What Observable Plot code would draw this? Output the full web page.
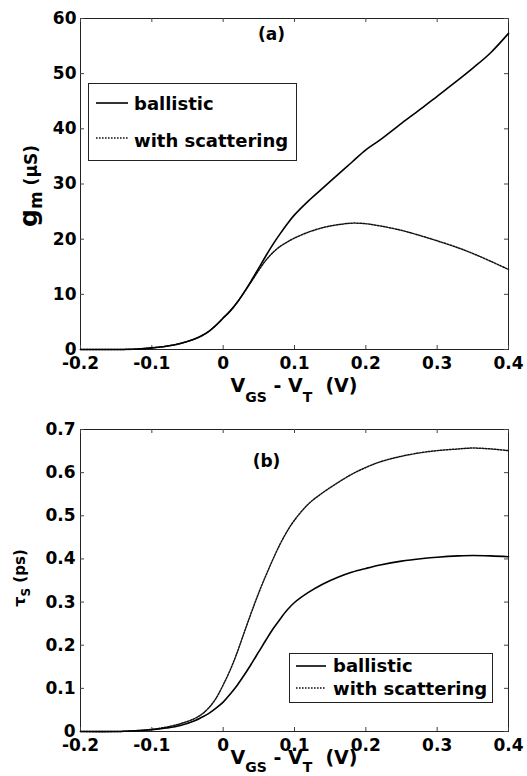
<!DOCTYPE html>
<html><head><meta charset="utf-8">
<script src="https://cdn.jsdelivr.net/npm/d3@7"></script>
<script src="https://cdn.jsdelivr.net/npm/@observablehq/plot@0.6"></script>
<style>
body{margin:0;background:#fff;}
#wrap{position:relative;width:527px;height:776px;overflow:hidden;background:#fff;}
#wrap svg{position:absolute;left:0;}
</style></head><body><div id="wrap"></div>
<script>
// V_GS - V_T (V)
const vgs = [-0.2,-0.15,-0.12,-0.1,-0.08,-0.06,-0.04,-0.03,-0.02,-0.01,0,0.01,0.02,0.03,0.04,0.05,0.06,0.07,0.08,0.09,0.1,0.12,0.14,0.16,0.18,0.2,0.22,0.25,0.28,0.3,0.33,0.35,0.375,0.4];
// (a) g_m (uS)
const gmBallistic  = [0,0,0.1,0.3,0.6,1.1,1.9,2.5,3.3,4.4,5.7,7.0,8.6,10.5,12.6,14.8,17.0,19.1,21.0,22.8,24.4,27.0,29.3,31.6,33.9,36.2,38.0,41.0,43.9,45.9,48.9,51.0,53.8,57.3];
const gmScattering = [0,0,0.1,0.3,0.6,1.1,1.9,2.5,3.3,4.4,5.7,7.0,8.6,10.5,12.4,14.4,16.2,17.6,18.7,19.5,20.2,21.3,22.1,22.6,22.9,22.8,22.4,21.6,20.5,19.7,18.4,17.4,16.0,14.5];
// (b) tau_S (ps)
const tauBallistic  = [0,0,0.002,0.004,0.008,0.014,0.025,0.033,0.042,0.054,0.068,0.087,0.108,0.132,0.158,0.185,0.212,0.238,0.261,0.282,0.299,0.323,0.342,0.357,0.369,0.378,0.386,0.395,0.401,0.404,0.407,0.408,0.407,0.405];
const tauScattering = [0,0,0.002,0.005,0.010,0.018,0.030,0.040,0.055,0.077,0.108,0.143,0.185,0.232,0.278,0.322,0.362,0.400,0.435,0.465,0.49,0.528,0.554,0.576,0.596,0.612,0.625,0.638,0.647,0.651,0.655,0.657,0.655,0.651];

const xTicks = [-0.2,-0.1,0,0.1,0.2,0.3,0.4];
const gmTicks = [0,10,20,30,40,50,60];
const tauTicks = [0,0.1,0.2,0.3,0.4,0.5,0.6,0.7];
const seriesNames = ["ballistic","with scattering"];
const panelLabels = ["(a)","(b)"];

const SOLID = {stroke:"#000", strokeWidth:1.6};
const DOT = {stroke:"#111", strokeWidth:1.5, strokeDasharray:"1.6,1.4"};
const TICKFONT = {fontFamily:"DejaVu Sans", fontWeight:"bold", fontSize:17, fill:"#000"};

function panel({top, height, marginTop, marginBottom, yDomain, yTicks, yPad, b, s, label, labelDx, labelDy}) {
  const ml = 80, mr = 19;
  const ph = height - marginTop - marginBottom;
  const pw = 527 - ml - mr;
  const rows = vgs.map((x,i)=>({x, b:b[i], s:s[i]}));
  const svg = Plot.plot({
    width: 527, height, marginLeft: ml, marginRight: mr, marginTop, marginBottom,
    style: {background:"transparent", overflow:"visible"},
    x: {domain:[-0.2,0.4]},
    y: {domain: yDomain},
    marks: [
      Plot.frame({stroke:"#222", strokeWidth:1}),
      Plot.tickX(xTicks, {x:d=>d, insetTop: ph-4, stroke:"#444"}),
      Plot.tickX(xTicks, {x:d=>d, insetBottom: ph-4, stroke:"#444"}),
      Plot.tickY(yTicks, {y:d=>d, insetRight: pw-4, stroke:"#444"}),
      Plot.tickY(yTicks, {y:d=>d, insetLeft: pw-4, stroke:"#444"}),
      Plot.axisX(xTicks, {tickSize:0, tickPadding:7, tickFormat:d=>String(d), label:null, ...TICKFONT}),
      Plot.axisY(yTicks, {tickSize:0, tickPadding:yPad, tickFormat:d=>String(d), label:null, ...TICKFONT}),
      Plot.line(rows, {x:"x", y:"s", curve:"catmull-rom", ...DOT}),
      Plot.line(rows, {x:"x", y:"b", curve:"catmull-rom", ...SOLID}),
      Plot.text([label], {text:d=>d, frameAnchor:"top", dx:labelDx, dy:labelDy, fontFamily:"DejaVu Sans", fontWeight:"bold", fontSize:17, fill:"#000", lineAnchor:"top"})
    ]
  });
  svg.style.top = top + "px";
  document.getElementById("wrap").appendChild(svg);
  return d3.select(svg);
}

function txt(sel, size) {
  return sel.append("text").attr("font-size", size).style("font-size", size + "px")
    .style("font-family","'DejaVu Sans'").style("font-weight","bold").style("fill","#000");
}
function span(t, s, size, dy) {
  const e = t.append("tspan").text(s);
  if (size) e.attr("font-size", size).style("font-size", size + "px");
  if (dy) e.attr("dy", dy);
  return e;
}

function legend(sel, x0, y0, w, h, rows) {
  const g = sel.append("g");
  g.append("rect").attr("x",x0+0.5).attr("y",y0+0.5).attr("width",w).attr("height",h)
    .attr("fill","#fff").attr("stroke","#222").attr("stroke-width",1);
  rows.forEach((r,i)=>{
    const st = i===0 ? SOLID : DOT;
    g.append("line").attr("x1",r.lx1).attr("x2",r.lx2).attr("y1",r.ly).attr("y2",r.ly)
      .attr("stroke",st.stroke).attr("stroke-width",st.strokeWidth)
      .attr("stroke-dasharray", st.strokeDasharray || null);
    txt(g, 18).attr("x",r.tx).attr("y",r.ty).style("text-anchor","start").text(seriesNames[i]);
  });
}

function xTitle(sel, cx, y, sub) {
  const t = txt(sel, 19).attr("x",cx).attr("y",y).style("text-anchor","middle").style("white-space","pre");
  span(t, "V");
  span(t, "GS", 14, sub);
  span(t, " - V", 19, -sub);
  span(t, "T", 14, sub);
  span(t, "  (V)", 19, -sub);
}

// (a)
const A = panel({top:0, height:410, marginTop:18, marginBottom:61, yDomain:[0,60], yTicks:gmTicks, yPad:4,
  b:gmBallistic, s:gmScattering, label:panelLabels[0], labelDx:-23, labelDy:9});
legend(A, 88, 83, 208, 77, [
  {lx1:96, lx2:128, ly:103, tx:134, ty:110},
  {lx1:96, lx2:128, ly:138, tx:134, ty:147}
]);
xTitle(A, 294, 392, 10);
{
  const t = txt(A, 17).attr("transform","translate(37,186) rotate(-90)").style("text-anchor","middle").style("white-space","pre");
  span(t, "g", 25);
  span(t, "m", 17, 5);
  span(t, " (\u03bcS)", 17, -5);
}

// (b)
const B = panel({top:410, height:366, marginTop:19, marginBottom:45, yDomain:[0,0.7], yTicks:tauTicks, yPad:5,
  b:tauBallistic, s:tauScattering, label:panelLabels[1], labelDx:-28, labelDy:25});
legend(B, 289, 653-410, 203, 49, [
  {lx1:296, lx2:326, ly:666-410, tx:333, ty:672-410},
  {lx1:296, lx2:326, ly:688-410, tx:333, ty:695-410}
]);
xTitle(B, 294, 764-410, 8);
{
  const t = txt(B, 15).attr("transform",`translate(25,${578-410}) rotate(-90)`).style("text-anchor","middle").style("white-space","pre");
  span(t, "\u03c4", 16);
  span(t, "S", 12, 5);
  span(t, " (ps)", 15, -5);
}
</script></body></html>
